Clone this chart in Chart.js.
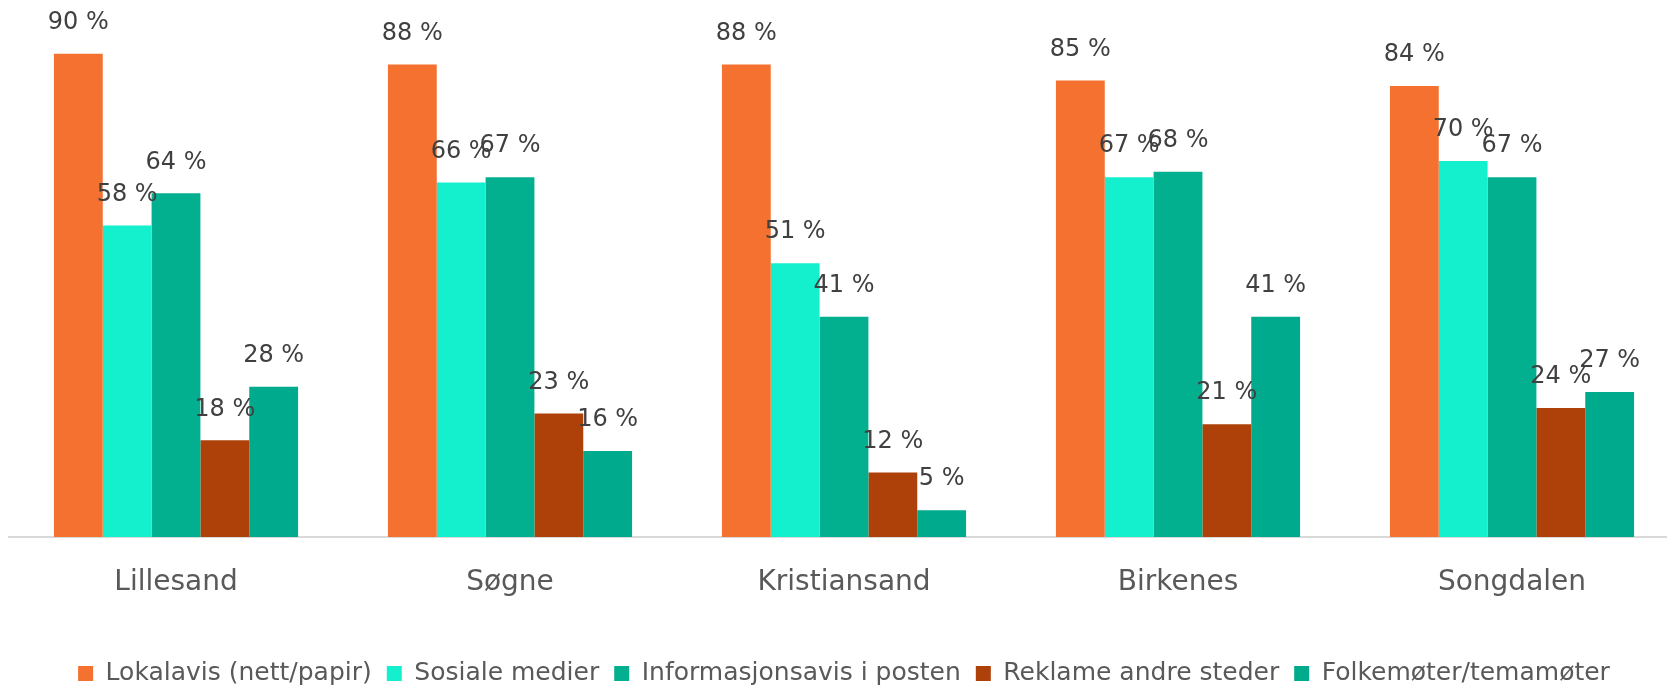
<!DOCTYPE html>
<html>
<head>
<meta charset="utf-8">
<script src="https://cdn.jsdelivr.net/npm/chart.js@4"></script>
<style>
  html, body { margin: 0; padding: 0; background: #fff; overflow: hidden; }
  #wrap { width: 1679px; height: 688px; }
</style>
</head>
<body>
<div id="wrap"><canvas id="kanaler"></canvas></div>
<script>
const kommuner = ['Lillesand', 'Søgne', 'Kristiansand', 'Birkenes', 'Songdalen'];
const lokalavis = [90, 88, 88, 85, 84];
const sosialeMedier = [58, 66, 51, 67, 70];
const infoavis = [64, 67, 41, 68, 67];
const reklame = [18, 23, 12, 21, 24];
const folkemoter = [28, 16, 5, 41, 27];

const FONT = 'DejaVu Sans';

// value labels above each bar
const verdiEtiketter = {
    id: 'verdiEtiketter',
    afterLayout(chart) {
        // legend sits a bit lower than chart.js puts it
        chart.legend.top += 8;
        chart.legend.bottom += 8;
    },
    afterDatasetsDraw(chart) {
        const ctx = chart.ctx;
        ctx.save();
        ctx.font = '24px "' + FONT + '"';
        ctx.fillStyle = '#404040';
        ctx.textAlign = 'center';
        ctx.textBaseline = 'middle';
        chart.data.datasets.forEach(function (ds, i) {
            chart.getDatasetMeta(i).data.forEach(function (bar, j) {
                ctx.fillText(ds.data[j] + ' %', bar.x, bar.y - 31);
            });
        });
        ctx.restore();
    }
};

window.onload = function () {
    const ctx = document.getElementById('kanaler').getContext('2d');
    new Chart(ctx, {
        type: 'bar',
        data: {
            labels: kommuner,
            datasets: [
                { label: 'Lokalavis (nett/papir)', data: lokalavis, backgroundColor: '#F47130' },
                { label: 'Sosiale medier', data: sosialeMedier, backgroundColor: '#14F0CE' },
                { label: 'Informasjonsavis i posten', data: infoavis, backgroundColor: '#02B08F' },
                { label: 'Reklame andre steder', data: reklame, backgroundColor: '#AE410A' },
                { label: 'Folkemøter/temamøter', data: folkemoter, backgroundColor: '#00AA8D' }
            ]
        },
        options: {
            responsive: true,
            maintainAspectRatio: false,
            animation: false,
            datasets: {
                bar: { barPercentage: 1, categoryPercentage: 0.731 }
            },
            layout: {
                padding: { left: 9, right: 0, top: 0, bottom: 0 }
            },
            scales: {
                y: {
                    display: false,
                    min: 0,
                    max: 100
                },
                x: {
                    grid: { display: false, drawTicks: false },
                    border: { display: true, color: '#D9D9D9', width: 2 },
                    ticks: {
                        padding: 29,
                        color: '#595959',
                        font: { family: FONT, size: 28 }
                    },
                    afterFit: function (scale) { scale.height = 101; }
                }
            },
            plugins: {
                legend: {
                    position: 'bottom',
                    labels: {
                        boxWidth: 15,
                        boxHeight: 15,
                        padding: 15,
                        color: '#595959',
                        font: { family: FONT, size: 25 }
                    }
                },
                tooltip: { enabled: false }
            }
        },
        plugins: [verdiEtiketter]
    });
};
</script>
</body>
</html>
